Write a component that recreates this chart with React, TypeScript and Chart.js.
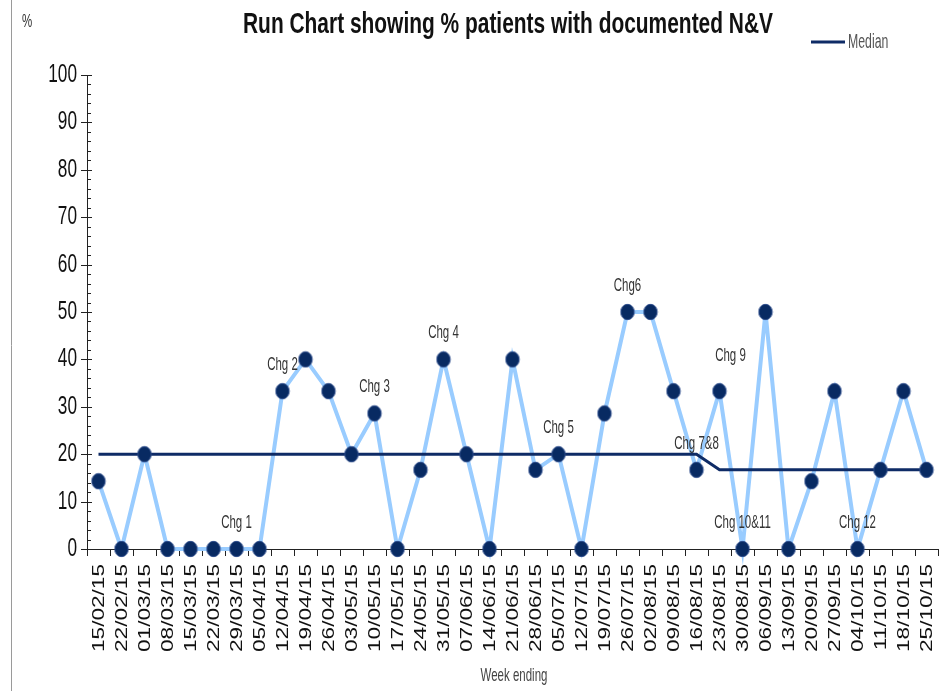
import React, { useEffect, useRef } from "react";
import Chart from "chart.js/auto";

const weeks = [
  "15/02/15", "22/02/15", "01/03/15", "08/03/15", "15/03/15", "22/03/15", "29/03/15", "05/04/15",
  "12/04/15", "19/04/15", "26/04/15", "03/05/15", "10/05/15", "17/05/15", "24/05/15", "31/05/15",
  "07/06/15", "14/06/15", "21/06/15", "28/06/15", "05/07/15", "12/07/15", "19/07/15", "26/07/15",
  "02/08/15", "09/08/15", "16/08/15", "23/08/15", "30/08/15", "06/09/15", "13/09/15", "20/09/15",
  "27/09/15", "04/10/15", "11/10/15", "18/10/15", "25/10/15",
];

const percentNV = [
  14.3, 0, 20, 0, 0, 0, 0, 0,
  33.3, 40, 33.3, 20, 28.6, 0, 16.7, 40,
  20, 0, 40, 16.7, 20, 0, 28.6, 50,
  50, 33.3, 16.7, 33.3, 0, 50, 0, 14.3,
  33.3, 0, 16.7, 33.3, 16.7,
];

const median = [
  20, 20, 20, 20, 20, 20, 20, 20,
  20, 20, 20, 20, 20, 20, 20, 20,
  20, 20, 20, 20, 20, 20, 20, 20,
  20, 20, 20, 16.7, 16.7, 16.7, 16.7, 16.7,
  16.7, 16.7, 16.7, 16.7, 16.7,
];

const yTicks = [0, 10, 20, 30, 40, 50, 60, 70, 80, 90, 100];

const changeLabels = ["Chg 1", "Chg 2", "Chg 3", "Chg 4", "Chg 5", "Chg6", "Chg 7&8", "Chg 9", "Chg 10&11", "Chg 12"];
const changeWeeks = ["29/03/15", "12/04/15", "10/05/15", "31/05/15", "05/07/15", "26/07/15", "16/08/15", "23/08/15", "30/08/15", "04/10/15"];

const TITLE = "Run Chart showing % patients with documented N&V";

// label nudges (styling only)
const nudge: Record<string, [number, number]> = { "Chg 9": [11, -9] };

function drawText(
  ctx: CanvasRenderingContext2D, text: string, x: number, y: number, font: string,
  sx: number, sy: number, align: CanvasTextAlign, baseline: CanvasTextBaseline, color: string, rot = 0
) {
  ctx.save();
  ctx.translate(x, y);
  if (rot) ctx.rotate(rot);
  ctx.scale(sx, sy);
  ctx.font = font;
  ctx.textAlign = align;
  ctx.textBaseline = baseline;
  ctx.fillStyle = color;
  ctx.fillText(text, 0, 0);
  ctx.restore();
}

function makeDot() {
  const c = document.createElement("canvas");
  c.width = 16;
  c.height = 18;
  const g = c.getContext("2d")!;
  g.beginPath();
  g.ellipse(8, 9, 6.7, 7.7, 0, 0, Math.PI * 2);
  g.fillStyle = "#082a62";
  g.fill();
  g.lineWidth = 1;
  g.strokeStyle = "#2a4a8a";
  g.stroke();
  return c;
}

const decorPlugin = {
  id: "decor",
  afterDraw(chart: any) {
    const ctx: CanvasRenderingContext2D = chart.ctx;
    const xs = chart.scales.x;
    const ys = chart.scales.y;
    const area = chart.chartArea;
    const FONT = "'Liberation Sans', Arial, sans-serif";

    // left frame line
    ctx.save();
    ctx.strokeStyle = "#9a9a9a";
    ctx.lineWidth = 1;
    ctx.beginPath();
    ctx.moveTo(11.5, 0);
    ctx.lineTo(11.5, 691);
    ctx.stroke();
    ctx.restore();

    // title
    ctx.save();
    ctx.font = `bold 22px ${FONT}`;
    const tw = ctx.measureText(TITLE).width;
    ctx.restore();
    drawText(ctx, TITLE, 508, 33, `bold 22px ${FONT}`, 530 / tw, 1.33, "center", "alphabetic", "#111");

    // % unit
    drawText(ctx, "%", 22, 27, `14px ${FONT}`, 0.82, 1.3, "left", "alphabetic", "#333");

    // legend
    ctx.save();
    ctx.strokeStyle = "#0e2b66";
    ctx.lineWidth = 3;
    ctx.beginPath();
    ctx.moveTo(811, 42);
    ctx.lineTo(845, 42);
    ctx.stroke();
    ctx.restore();
    drawText(ctx, "Median", 848, 43, `15px ${FONT}`, 0.82, 1.3, "left", "middle", "#555");

    // y ticks (major + minor) and labels
    const ax = area.left;
    ctx.save();
    ctx.strokeStyle = "#222";
    ctx.lineWidth = 1;
    for (let v = 0; v <= 100; v += 2) {
      const py = Math.round(ys.getPixelForValue(v)) + 0.5;
      ctx.beginPath();
      if (v % 10 === 0) {
        ctx.moveTo(ax - 6, py);
        ctx.lineTo(ax + 5, py);
      } else {
        ctx.moveTo(ax, py);
        ctx.lineTo(ax + 4, py);
      }
      ctx.stroke();
    }
    ctx.restore();
    yTicks.forEach((v) => {
      drawText(ctx, String(v), 77, ys.getPixelForValue(v), `21px ${FONT}`, 0.82, 1.2, "right", "middle", "#111");
    });

    // x labels
    weeks.forEach((w, i) => {
      drawText(ctx, w, xs.getPixelForValue(i) + 1, 564, `17px ${FONT}`, 1.33, 1, "right", "middle", "#111", -Math.PI / 2);
    });

    // x title
    drawText(ctx, "Week ending", 514, 676, `14px ${FONT}`, 0.82, 1.3, "center", "middle", "#444");

    // change annotations
    changeLabels.forEach((lab, k) => {
      const i = weeks.indexOf(changeWeeks[k]);
      const [dx, dy] = nudge[lab] || [0, 0];
      const px = xs.getPixelForValue(i) + dx;
      const py = ys.getPixelForValue(percentNV[i]) - 26 + dy;
      drawText(ctx, lab, px, py, `14px ${FONT}`, 0.82, 1.3, "center", "middle", "#333");
    });
  },
};

export default function App() {
  const ref = useRef<HTMLCanvasElement | null>(null);
  useEffect(() => {
    if (!ref.current) return;
    const dot = makeDot();
    const chart = new Chart(ref.current, {
      type: "line",
      data: {
        labels: weeks,
        datasets: [
          {
            label: "dots",
            data: percentNV,
            showLine: false,
            pointStyle: dot as any,
            pointRadius: 7,
            pointHoverRadius: 7,
            order: 0,
            clip: false as any,
          },
          {
            label: "Median",
            data: median,
            borderColor: "#0e2b66",
            borderWidth: 3,
            pointRadius: 0,
            tension: 0,
            order: 1,
            clip: false as any,
          },
          {
            label: "% patients",
            data: percentNV,
            borderColor: "#99ccff",
            borderWidth: 4,
            pointRadius: 0,
            tension: 0,
            order: 2,
            clip: false as any,
          },
        ],
      },
      options: {
        animation: false,
        responsive: false,
        maintainAspectRatio: false,
        events: [],
        layout: { padding: { top: 75, right: 13, left: 0, bottom: 0 } },
        plugins: { legend: { display: false }, title: { display: false }, tooltip: { enabled: false } },
        scales: {
          x: {
            type: "category",
            offset: true,
            grid: { offset: true, drawOnChartArea: false, tickLength: 7, color: "#222", lineWidth: 1 },
            border: { display: true, color: "#222", width: 1 },
            ticks: { display: false },
            afterFit: (s: any) => { s.height = 142; },
          },
          y: {
            min: 0,
            max: 100,
            grid: { drawOnChartArea: false, drawTicks: false },
            border: { display: true, color: "#222", width: 1 },
            ticks: { display: false, stepSize: 10 },
            afterFit: (s: any) => { s.width = 87; },
          },
        },
      },
      plugins: [decorPlugin],
    });
    return () => chart.destroy();
  }, []);
  return (
    <div style={{ position: "fixed", left: 0, top: 0, width: 951, height: 691, background: "#fff" }}>
      <canvas ref={ref} width={951} height={691} style={{ display: "block" }} />
    </div>
  );
}
